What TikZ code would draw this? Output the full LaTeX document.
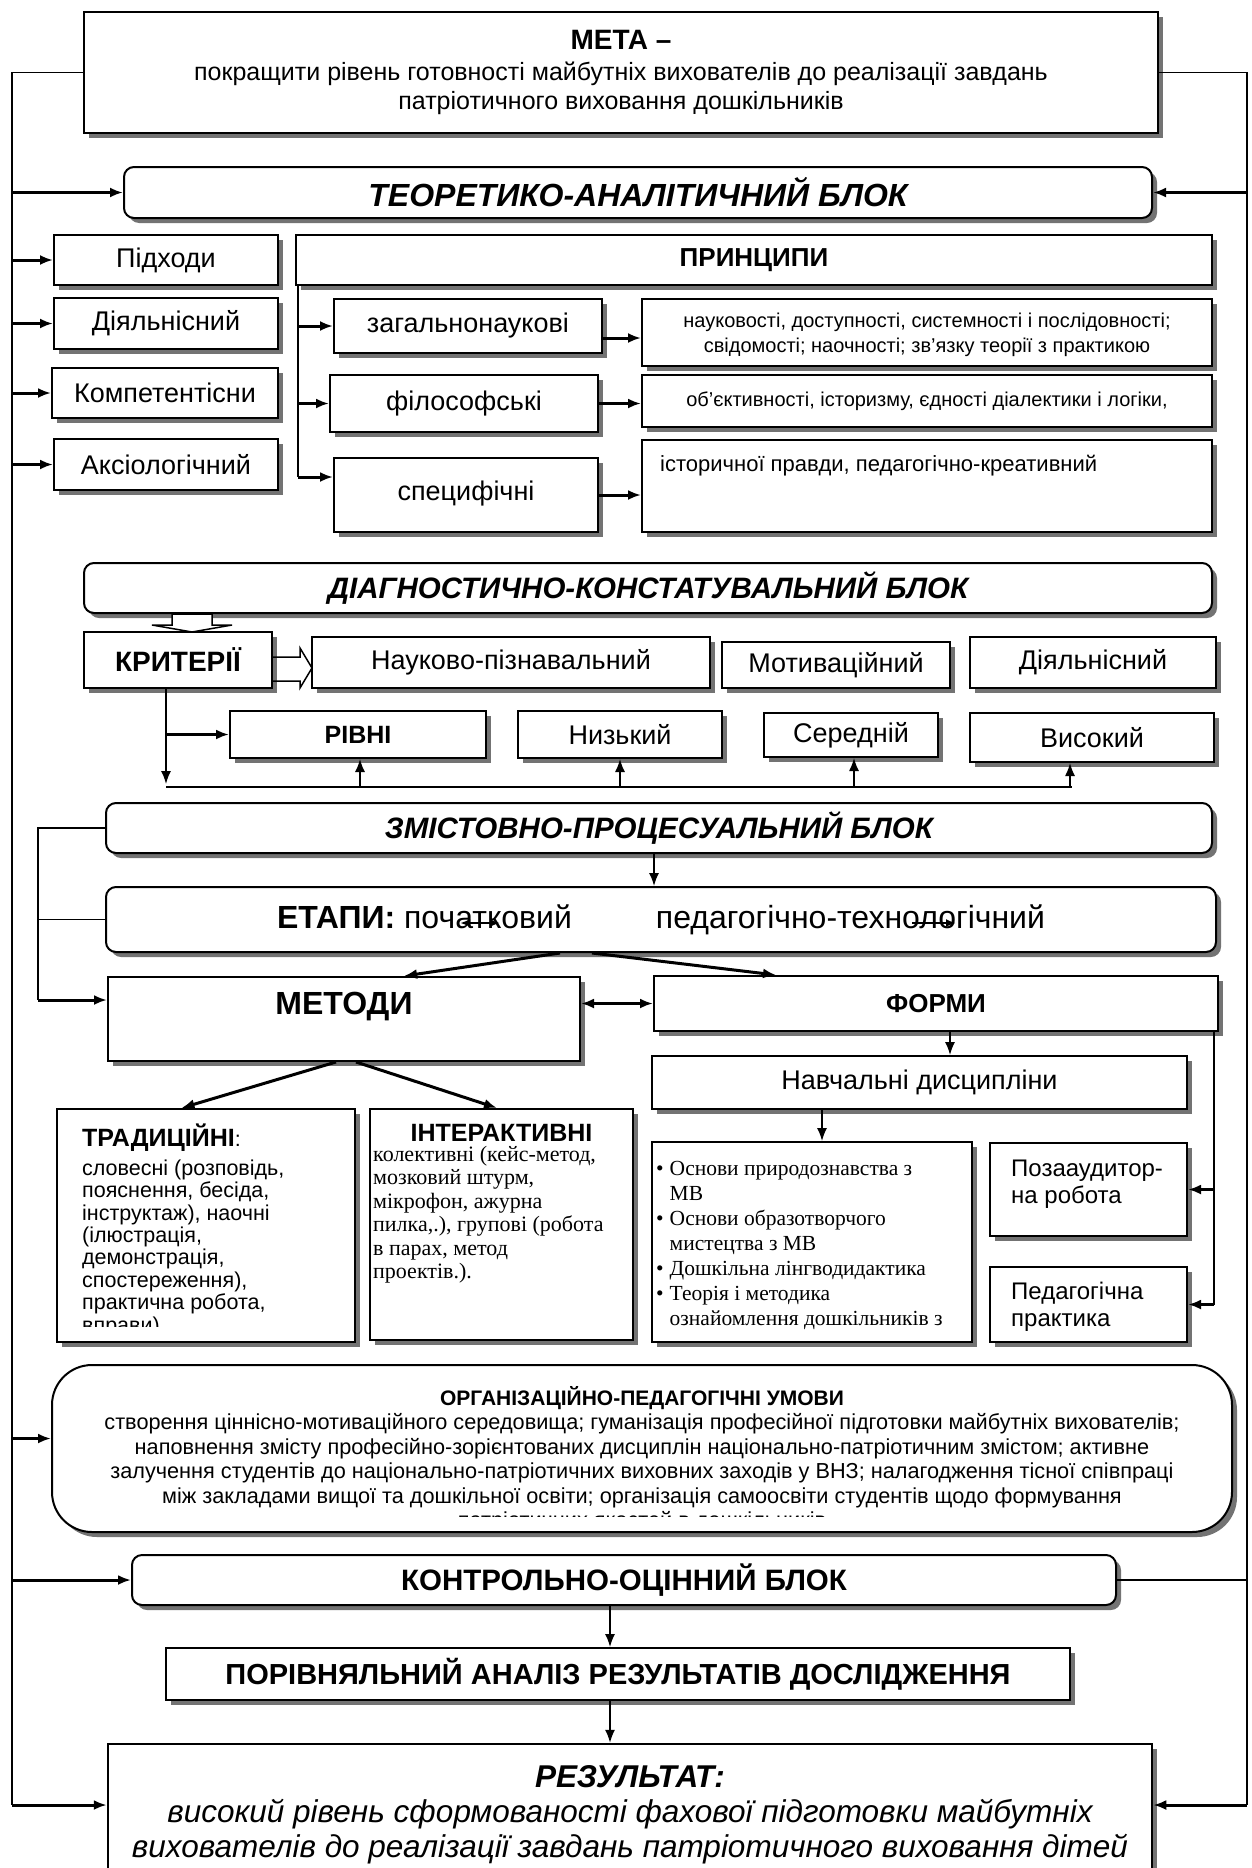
\documentclass[tikz,border=0pt]{standalone}
\usepackage{fontspec}
\setmainfont{Liberation Sans}
\newfontfamily\timesfont{Liberation Serif}
\usetikzlibrary{%
  arrows.meta,%
  calc,%
  shadows%
}
\newcommand{\fsz}[2]{\fontsize{#1}{#2}\selectfont}
\tikzset{>={Latex[length=13pt,width=10pt]},%
  box/.style={draw,line width=2pt,fill=white,inner sep=0pt,
    drop shadow={shadow xshift=5pt,shadow yshift=-5pt,fill=black!55,opacity=1}},%
  rbox/.style={box,rounded corners=10pt},%
  sz/.style 2 args={minimum width=#1pt,minimum height=#2pt},%
  wire/.style={line width=1.5pt},%
  fat/.style={line width=3pt},%
  small/.style={line width=2pt,>={Latex[length=10pt,width=8pt]}}}

\begin{document}
\begin{tikzpicture}[x=1pt,y=-1pt,font=\fsz{27}{30}]
\useasboundingbox (0,0) rectangle (1252,1868);
% мета, теоретико-аналітичний блок
\node[box,line width=2.5pt,sz={1074}{121},align=center,font=\fsz{25}{29}] at (621,72.5) (meta)
  {{\fsz{28}{30}\bfseries МЕТА –}\\[2pt]
   покращити рівень готовності майбутніх вихователів до реалізації завдань\\
   патріотичного виховання дошкільників};
\node[rbox,sz={1028}{51},font=\fsz{32}{34}\bfseries\itshape] at (638,192.5) (teor)
  {\raisebox{-5pt}{ТЕОРЕТИКО-АНАЛІТИЧНИЙ БЛОК}};
\node[box,sz={224}{50}] at (166,260) (pidh) {Підходи};
\node[box,sz={224}{51}] at (166,323.5) (diial) {Діяльнісний};
\node[box,sz={226}{50}] at (165,393) (komp) {Компетентісни};
\node[box,sz={224}{51}] at (166,464.5) (aks) {Аксіологічний};
\node[box,sz={916}{50},font=\fsz{26}{30}\bfseries] at (754,260) (pryn) {ПРИНЦИПИ};
\node[box,sz={268}{54}] at (468,326) (zah) {загальнонаукові};
\node[box,sz={268}{57}] at (464,403.5) (fil) {філософські};
\node[box,sz={264}{74}] at (466,495) (spec) {\raisebox{8pt}{специфічні}};
\node[box,sz={570}{67},align=center,font=\fsz{20}{25}] at (927,332.5) (zahR)
  {\\[-6pt]науковості, доступності, системності і послідовності;\\
   свідомості; наочності; зв’язку теорії з практикою};
\node[box,sz={570}{52},font=\fsz{20}{25}] at (927,401) (filR)
  {об’єктивності, історизму, єдності діалектики і логіки,};
\node[box,sz={570}{92}] at (927,486) (specR) {};
\node[anchor=north west,inner sep=0pt,font=\fsz{22}{26}] at (660,455) (specRt)
  {історичної правди, педагогічно-креативний};

\coordinate (lt) at (12,72.5);
\coordinate (lb) at (12,1805);
\coordinate (rt) at (1247,72.5);
\coordinate (rb) at (1247,1805);
\draw[wire] (meta.west) -- (lt) -- (lb);
\draw[wire] (meta.east) -- (rt) -- (rb);
\draw[fat,->] (teor.west -| lt) -- (teor.west);
\draw[fat,->] (teor.east -| rt) -- (teor.east);
\foreach \n in {pidh,diial,komp,aks}
  \draw[fat,->] (\n.west -| lt) -- (\n.west);

\coordinate (pv) at (298,477);
\draw[wire] (pryn.south west -| pv) -- (pv);
\foreach \n in {zah,fil}
  \draw[fat,->] (\n.west -| pv) -- (\n.west);
\draw[fat,->] (pv) -- (pv -| spec.west);
\draw[fat,->] ([yshift=-12pt]zah.east) -- ([yshift=-12pt]zah.east -| zahR.west);
\draw[fat,->] (fil.east) -- (fil.east -| filR.west);
\draw[fat,->] (spec.east) -- (spec.east -| specR.west);

% діагностично-констатувальний блок
\node[rbox,sz={1128}{50},font=\fsz{29.5}{34}\bfseries\itshape] at (648,588) (diag)
  {\raisebox{-4pt}{ДІАГНОСТИЧНО-КОНСТАТУВАЛЬНИЙ БЛОК}};
\node[box,sz={188}{56},font=\fsz{28}{32}\bfseries] at (178,660) (kryt) {КРИТЕРІЇ};
\node[box,sz={398}{51}] at (511,662.5) (nauk) {Науково-пізнавальний};
\node[box,sz={228}{46}] at (836,665) (motyv) {Мотиваційний};
\node[box,sz={246}{51}] at (1093,662.5) (diial2) {Діяльнісний};
\node[box,sz={256}{47},font=\fsz{25}{30}\bfseries] at (358,734.5) (rivni) {РІВНІ};
\node[box,sz={204}{47}] at (620,734.5) (nyz) {Низький};
\node[box,sz={174}{44}] at (851,735) (ser) {Середній};
\node[box,sz={244}{49}] at (1092,737.5) (vys) {Високий};

\draw[wire,fill=white] (172,614) -- (212,614) -- (212,625) -- (232,625)
  -- (192,632) -- (152,625) -- (172,625) -- cycle;
\draw[wire] (272,657) -- (300,657) -- (300,648) -- (312,668) -- (300,688)
  -- (300,681) -- (272,681);
\coordinate (kd) at (166,787);
\draw[wire,->] (kryt.south -| kd) -- ([yshift=3pt]kd);
\draw[wire] (kd) -- (1072,787);
\foreach \n/\x in {rivni/360,nyz/620,ser/854,vys/1070}
  \draw[wire,->] (\x,787) -- (\n.south -| \x,0);
\draw[fat,->] (rivni.west -| kd) -- (rivni.west);

% змістовно-процесуальний блок
\node[rbox,sz={1106}{50},font=\fsz{29.5}{34}\bfseries\itshape] at (659,828) (zmist)
  {\raisebox{-4pt}{ЗМІСТОВНО-ПРОЦЕСУАЛЬНИЙ БЛОК}};
\node[rbox,sz={1110}{65},font=\fsz{32}{34}] at (661,919.5) (etapy)
  {\textbf{ЕТАПИ:} початковий\hspace{84pt}педагогічно-технологічний};
\draw[small,<->] (460,923) -- (500,923);
\draw[small,->] (912,923) -- (956,923);
\node[box,sz={472}{84}] at (344,1019) (metody) {};
\node[font=\fsz{32}{36}\bfseries] at (344,1007) (metodyt) {МЕТОДИ};
\node[box,sz={564}{55},font=\fsz{26}{30}\bfseries] at (936,1003.5) (formy) {ФОРМИ};
\node[box,sz={535}{53}] at (919.5,1082.5) (navch) {Навчальні дисципліни};
\node[box,sz={320}{200}] at (812,1242) (spysok) {};
\node[anchor=north west,inner sep=0pt,font=\fsz{21.5}{25}\timesfont] at (656,1158) (spysokt)
  {\begin{tabular}{@{}l@{\hspace{6pt}}l@{}}
   • & Основи природознавства з\\
     & МВ\\
   • & Основи образотворчого\\
     & мистецтва з МВ\\
   • & Дошкільна лінгводидактика\\
   • & Теорія і методика\\
     & ознайомлення дошкільників з
   \end{tabular}};
\node[box,sz={197}{93}] at (1088.5,1189.5) (poza) {};
\node[anchor=north west,align=left,inner sep=0pt,font=\fsz{24}{27}] at (1011,1160) (pozat)
  {Позааудитор-\\на робота};
\node[box,sz={197}{75}] at (1088.5,1304.5) (ped) {};
\node[anchor=north west,align=left,inner sep=0pt,font=\fsz{24}{27}] at (1011,1282) (pedt)
  {Педагогічна\\практика};
\node[box,sz={298}{233}] at (206,1225.5) (trad) {};
\begin{scope}
  \clip (59,1111) rectangle (353,1326);
  \node[anchor=north west,align=left,inner sep=0pt,font=\fsz{21.5}{22.4}] at (82,1124) (tradt)
    {{\fsz{25}{29}\bfseries ТРАДИЦІЙНІ}:\\[6pt]
     словесні (розповідь,\\ пояснення, бесіда,\\ інструктаж), наочні\\ (ілюстрація,\\
     демонстрація,\\ спостереження),\\ практична робота,\\ вправи).};
\end{scope}
\node[box,sz={263}{231}] at (501.5,1224.5) (inter) {};
\node[anchor=north,inner sep=0pt,font=\fsz{25}{29}\bfseries] at (501.5,1124) (intert) {ІНТЕРАКТИВНІ};
\node[anchor=north west,align=left,inner sep=0pt,font=\fsz{22}{23.5}\timesfont] at (373,1146) (intertt)
  {колективні (кейс-метод,\\ мозковий штурм,\\ мікрофон, ажурна\\ пилка,.), групові (робота\\
   в парах, метод\\ проектів.).};

\coordinate (zb) at (38,1000);
\draw[wire] (zmist.west) -| (zb);
\draw[wire] (etapy.west) -- (etapy.west -| zb);
\draw[fat,->] (zb) -- (zb -| metody.west);
\draw[wire,->] ([xshift=-5pt]zmist.south) -- ([xshift=-5pt]zmist.south |- etapy.north);
\draw[fat,->] ([xshift=-101pt]etapy.south) -- ([xshift=60pt]metody.north);
\draw[fat,->] ([xshift=-69pt]etapy.south) -- ([xshift=-160pt]formy.north);
\draw[fat,<->] (formy.west -| metody.east) -- (formy.west);
\draw[wire,->] ([xshift=14pt]formy.south) -- ([xshift=14pt]formy.south |- navch.north);
\draw[wire,->] ([xshift=10pt]spysok.north |- navch.south) -- ([xshift=10pt]spysok.north);
\coordinate (fr) at ([xshift=-5pt]formy.south east);
\draw[wire] (fr) -- (fr |- ped.east);
\draw[fat,->] (fr |- poza.east) -- (poza.east);
\draw[fat,->] (fr |- ped.east) -- (ped.east);
\draw[fat,->] ([xshift=-8pt]metody.south) -- ([xshift=-24.5pt]trad.north);
\draw[fat,->] ([xshift=12pt]metody.south) -- ([xshift=-4.5pt]inter.north);

% організаційно-педагогічні умови
\node[box,rounded corners=40pt,sz={1180}{167}] at (642,1448.5) (org) {};
\begin{scope}
  \clip (60,1370) rectangle (1224,1516);
  \node[anchor=north,align=center,inner sep=0pt,font=\fsz{21.7}{24.5}] at (642,1386) (orgt)
    {{\fsz{21}{24}\bfseries ОРГАНІЗАЦІЙНО-ПЕДАГОГІЧНІ УМОВИ}\\
     створення ціннісно-мотиваційного середовища; гуманізація професійної підготовки майбутніх вихователів;\\
     наповнення змісту професійно-зорієнтованих дисциплін національно-патріотичним змістом; активне\\
     залучення студентів до національно-патріотичних виховних заходів у ВНЗ; налагодження тісної співпраці\\
     між закладами вищої та дошкільної освіти; організація самоосвіти студентів щодо формування\\
     патріотичних якостей в дошкільників};
\end{scope}
\draw[fat,->] ([yshift=10pt]org.west -| lt) -- ([yshift=10pt]org.west);

% контрольно-оцінний блок, результат
\node[rbox,sz={984}{50},font=\fsz{29.5}{32}\bfseries] at (624,1580) (kontr)
  {\raisebox{-3pt}{КОНТРОЛЬНО-ОЦІННИЙ БЛОК}};
\node[box,sz={904}{52},font=\fsz{29}{32}\bfseries] at (618,1674) (porivn)
  {ПОРІВНЯЛЬНИЙ АНАЛІЗ РЕЗУЛЬТАТІВ ДОСЛІДЖЕННЯ};
\node[box,line width=2.5pt,sz={1044}{141},align=center,font=\fsz{31.5}{35}\itshape] at (630,1814.5) (rez)
  {{\bfseries РЕЗУЛЬТАТ:}\\
   високий рівень сформованості фахової підготовки майбутніх\\
   вихователів до реалізації завдань патріотичного виховання дітей};
\draw[fat,->] (kontr.west -| lt) -- (kontr.west);
\draw[wire] (kontr.east) -- (kontr.east -| rt);
\draw[wire,->] ([xshift=-14pt]kontr.south) -- ([xshift=-14pt]kontr.south |- porivn.north);
\draw[wire,->] ([xshift=-8pt]porivn.south) -- ([xshift=-8pt]porivn.south |- rez.north);
\draw[fat,->] (lb) -- (lb -| rez.west);
\draw[fat,->] (rb) -- (rb -| rez.east);
\end{tikzpicture}
\end{document}
